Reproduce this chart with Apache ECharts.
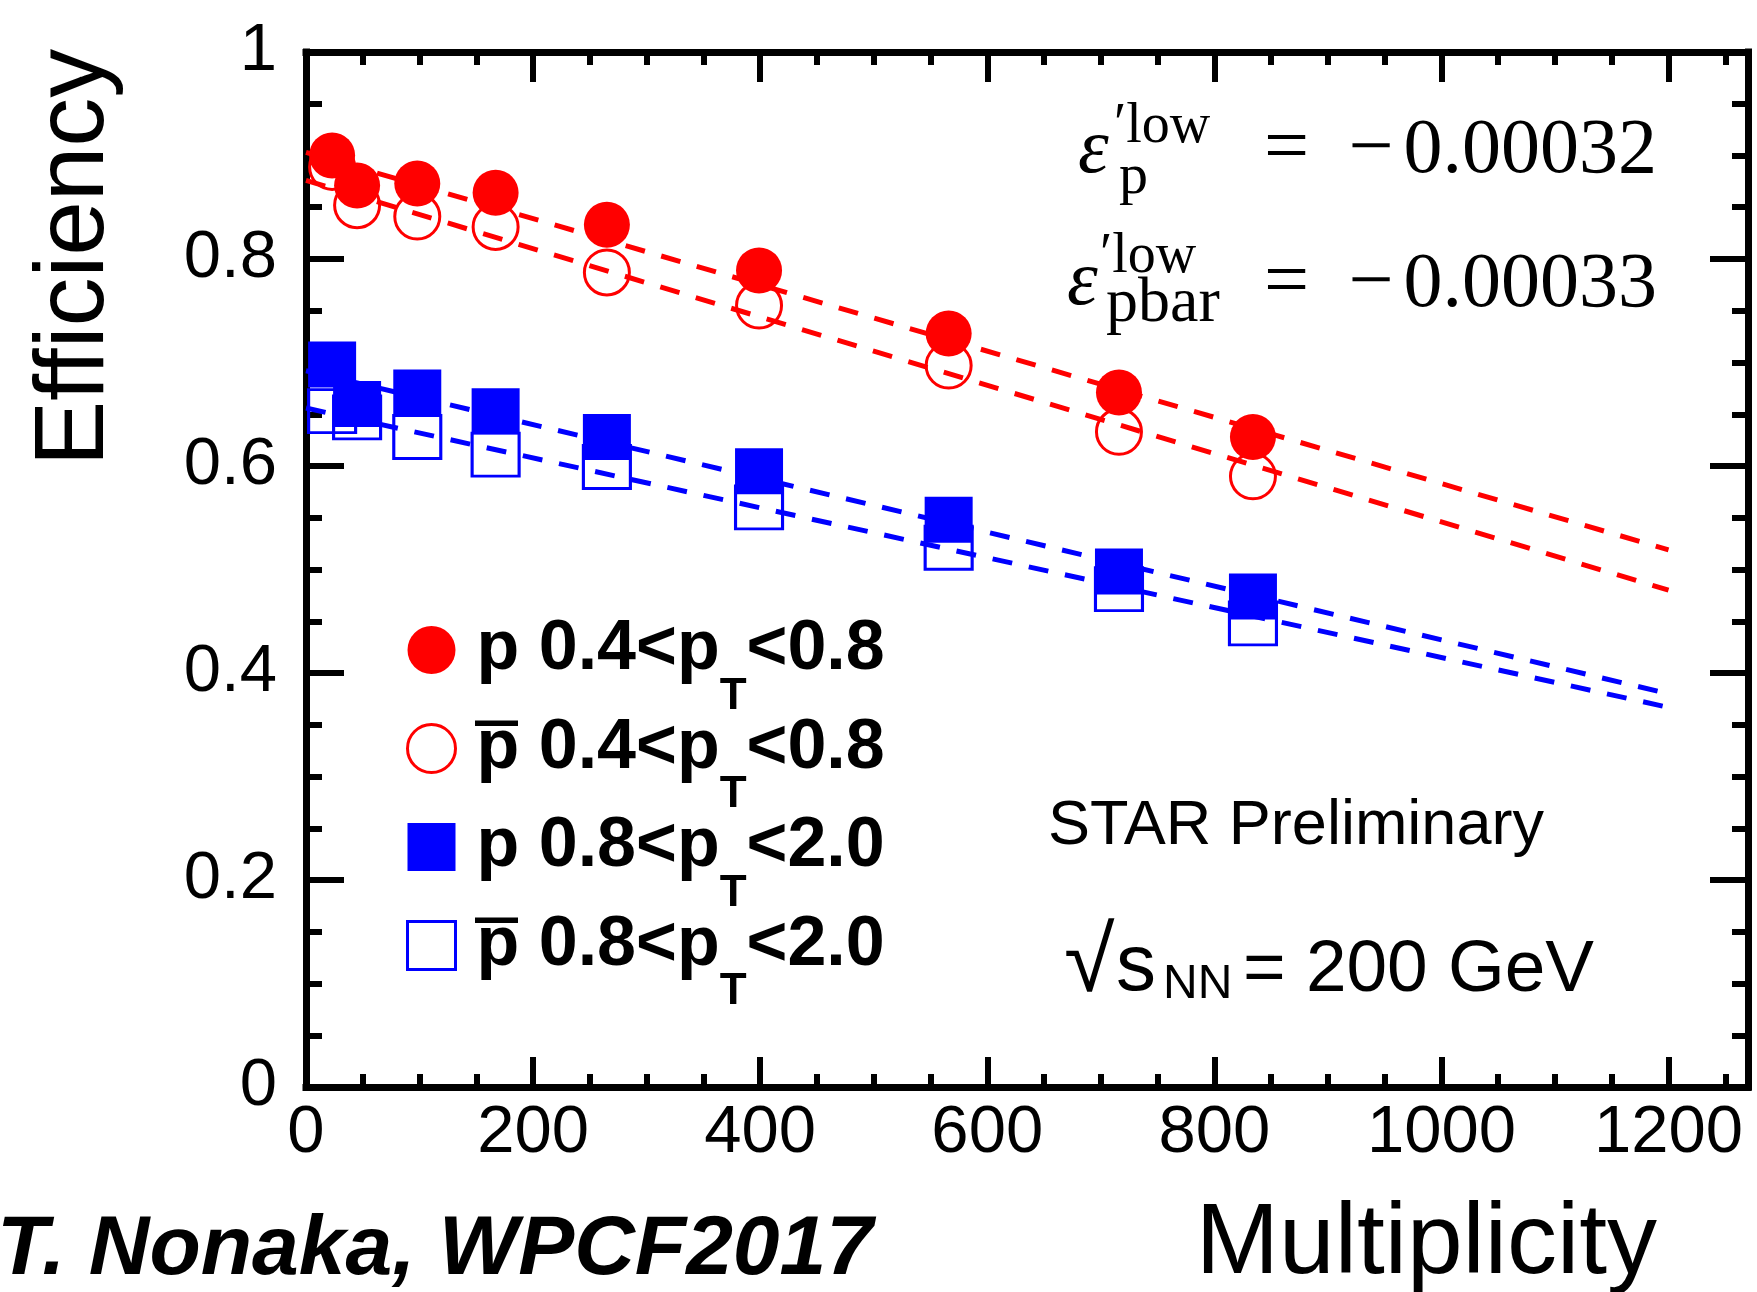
<!DOCTYPE html>
<html>
<head>
<meta charset="utf-8">
<title>Efficiency vs Multiplicity</title>
<script src="https://cdn.jsdelivr.net/npm/echarts@6/dist/echarts.min.js"></script>
<style>
  html, body { margin: 0; padding: 0; background: #fff; }
  #chart { width: 1757px; height: 1292px; }
</style>
</head>
<body>
<div id="chart"></div>
<script>
// ---- data -------------------------------------------------------------
const MULTIPLICITY = [23, 45, 98, 167, 265, 399, 566, 716, 834];

const EFF_P_LOW     = [0.900, 0.871, 0.873, 0.864, 0.833, 0.789, 0.728, 0.671, 0.628]; // p,    0.4<pT<0.8
const EFF_PBAR_LOW  = [0.889, 0.852, 0.841, 0.831, 0.787, 0.755, 0.697, 0.633, 0.590]; // pbar, 0.4<pT<0.8
const EFF_P_HIGH    = [0.698, 0.660, 0.671, 0.653, 0.628, 0.595, 0.548, 0.498, 0.474]; // p,    0.8<pT<2.0
const EFF_PBAR_HIGH = [0.653, 0.647, 0.628, 0.611, 0.599, 0.560, 0.521, 0.481, 0.448]; // pbar, 0.8<pT<2.0

// linear fits: eff = intercept + slope * multiplicity
const FIT_INTERCEPT = [0.903, 0.876, 0.692, 0.656];
const FIT_SLOPE     = [-0.00032, -0.00033, -0.00026, -0.000241];
const FIT_RANGE     = [0, 1200];

const SERIES_NAMES = ['p 0.4<pT<0.8', 'pbar 0.4<pT<0.8', 'p 0.8<pT<2.0', 'pbar 0.8<pT<2.0'];

const X_MAX = 1270;
const X_TICKS = [0, 200, 400, 600, 800, 1000, 1200];
const X_TICK_LABELS = ['0', '200', '400', '600', '800', '1000', '1200'];
const Y_TICKS = [0, 0.2, 0.4, 0.6, 0.8, 1];
const Y_TICK_LABELS = ['0', '0.2', '0.4', '0.6', '0.8', '1'];

// ---- styling helpers --------------------------------------------------
const SANS = "'Liberation Sans', Arial, Helvetica, sans-serif";
const SERIF = "'Liberation Serif', 'Times New Roman', serif";
const RED = '#ff0000';
const BLUE = '#0000ff';

function tickLabel(ticks, labels) {
  return function (v) {
    for (let i = 0; i < ticks.length; i++) {
      if (Math.abs(v - ticks[i]) < 1e-9) return labels[i];
    }
    return '';
  };
}

// text placed by its baseline (zrender draws with a 'middle' baseline)
function txt(text, x, baseline, size, o) {
  o = o || {};
  const family = o.family || SANS;
  const k = family === SERIF ? 0.3375 : 0.3465;
  return {
    type: 'text', x: x, y: baseline - k * size, silent: true, z: 50,
    style: {
      text: text, fill: '#000', fontSize: size, fontFamily: family,
      fontWeight: o.weight || 'normal', fontStyle: o.style || 'normal',
      align: o.align || 'left', verticalAlign: 'middle'
    }
  };
}

function pairs(xs, ys) { return xs.map((x, i) => [x, ys[i]]); }
function fitLine(i) {
  return FIT_RANGE.map(m => [m, FIT_INTERCEPT[i] + FIT_SLOPE[i] * m]);
}
function slopeParts(s) {
  return { sign: s < 0 ? '\u2212' : '', num: Math.abs(s).toFixed(5) };
}

// ---- axes -------------------------------------------------------------
const frameLine = { show: true, onZero: false, lineStyle: { color: '#000', width: 7, cap: 'square' } };
const noLine = { show: false, onZero: false };

function xAxis(position, interval, tickLen, withLine, withLabels) {
  return {
    type: 'value', position: position, min: 0, max: X_MAX, interval: interval,
    axisLine: withLine ? frameLine : noLine,
    axisTick: { show: true, inside: true, length: tickLen, lineStyle: { color: '#000', width: 6 } },
    axisLabel: withLabels ? {
      show: true, margin: 13, color: '#000', fontSize: 67, fontFamily: SANS,
      formatter: tickLabel(X_TICKS, X_TICK_LABELS)
    } : { show: false },
    splitLine: { show: false }
  };
}

function yAxis(position, withLabels) {
  return {
    type: 'value', position: position, min: 0, max: 1, interval: 0.2,
    axisLine: frameLine,
    axisTick: { show: true, inside: true, length: 38, lineStyle: { color: '#000', width: 6 } },
    minorTick: { show: true, splitNumber: 4, length: 16, lineStyle: { color: '#000', width: 6 } },
    axisLabel: withLabels ? {
      show: true, margin: 29, color: '#000', fontSize: 67, fontFamily: SANS,
      formatter: tickLabel(Y_TICKS, Y_TICK_LABELS)
    } : { show: false },
    splitLine: { show: false }, minorSplitLine: { show: false }
  };
}

// ---- series -----------------------------------------------------------
const fitColors = [RED, RED, BLUE, BLUE];
const fitSeries = fitColors.map((c, i) => ({
  type: 'line', name: 'fit' + i, data: fitLine(i), symbol: 'none', silent: true,
  lineStyle: { color: c, width: 5, type: [20, 17], cap: 'butt', opacity: 1 },
  emphasis: { disabled: true }, animation: false
}));

function markers(name, ys, symbol, size, color, open) {
  return {
    type: 'scatter', name: name, data: pairs(MULTIPLICITY, ys),
    symbol: symbol, symbolSize: size, silent: true, clip: false,
    itemStyle: open
      ? { color: 'rgba(255,255,255,0)', borderColor: color, borderWidth: 3, opacity: 1 }
      : { color: color, borderWidth: 0, opacity: 1 },
    emphasis: { disabled: true }
  };
}

const series = fitSeries.concat([
  markers(SERIES_NAMES[1], EFF_PBAR_LOW,  'circle', 45, RED, true),
  markers(SERIES_NAMES[3], EFF_PBAR_HIGH, 'rect', [47, 43], BLUE, true),
  markers(SERIES_NAMES[0], EFF_P_LOW,     'circle', 46, RED, false),
  markers(SERIES_NAMES[2], EFF_P_HIGH,    'rect', [48, 46], BLUE, false)
]);

// ---- legend text: "p 0.4<p_T<0.8" --------------------------------------
function legendText(name) {
  const m = name.match(/^(p|pbar) ([\d.]+)<pT<([\d.]+)$/);
  return '{b0|p ' + m[2] + '<p}{t|T}{b|<' + m[3] + '}';
}
const legendFont = { fontSize: 70, fontWeight: 'bold', fontFamily: SANS, color: '#000', lineHeight: 80 };

// ---- fit slope annotations --------------------------------------------
const s0 = slopeParts(FIT_SLOPE[0]);
const s1 = slopeParts(FIT_SLOPE[1]);

const graphics = [
  // axis titles
  { type: 'text', x: 76, y: 257.5, rotation: Math.PI / 2, silent: true, z: 50,
    style: { text: 'Efficiency', fill: '#000', fontSize: 98, fontFamily: SANS, align: 'center', verticalAlign: 'middle' } },
  txt('Multiplicity', 1657, 1280, 100, { align: 'right' }),
  txt('T. Nonaka, WPCF2017', -3, 1280, 84, { weight: 'bold', style: 'italic' }),

  // bars over the antiproton symbols in the legend
  { type: 'rect', silent: true, z: 50, shape: { x: 475, y: 720.5, width: 43, height: 5.5 }, style: { fill: '#000' } },
  { type: 'rect', silent: true, z: 50, shape: { x: 475, y: 917.5, width: 43, height: 5.5 }, style: { fill: '#000' } },

  // epsilon'_p^low
  txt('\u03b5', 1078, 178, 78, { family: SERIF, style: 'italic' }),
  txt('\u2032low', 1114, 146, 56, { family: SERIF }),
  txt('p', 1119, 197, 58, { family: SERIF }),
  txt('=', 1286.5, 178, 80, { family: SERIF, align: 'center' }),
  txt(s0.sign, 1371, 178, 80, { family: SERIF, align: 'center' }),
  txt(s0.num, 1657, 178, 78, { family: SERIF, align: 'right' }),

  // epsilon'_pbar^low
  txt('\u03b5', 1067, 310, 78, { family: SERIF, style: 'italic' }),
  txt('\u2032low', 1100, 276, 56, { family: SERIF }),
  txt('pbar', 1106, 326, 64, { family: SERIF }),
  txt('=', 1286.5, 312, 80, { family: SERIF, align: 'center' }),
  txt(s1.sign, 1371, 312, 80, { family: SERIF, align: 'center' }),
  txt(s1.num, 1657, 312, 78, { family: SERIF, align: 'right' }),

  // experiment / energy labels
  txt('STAR Preliminary', 1048, 848, 63),
  txt('\u221a', 1064, 998, 92),
  txt('s', 1116, 996, 80),
  txt('NN', 1163, 1001, 48),
  txt('= 200 GeV', 1243, 996, 73)
];

const option = {
  backgroundColor: '#fff',
  animation: false,
  grid: { left: 306, top: 52, width: 1442, height: 1035, containLabel: false },
  xAxis: [
    xAxis('bottom', 200, 30, true, true),
    xAxis('bottom', 50, 13, false, false),
    xAxis('top', 200, 30, true, false),
    xAxis('top', 50, 13, false, false)
  ],
  yAxis: [yAxis('left', true), yAxis('right', false)],
  legend: {
    // each text block is 137 px tall (subscript padding), so the gap is negative
    orient: 'vertical', left: 406, top: 581.5, padding: 0, itemGap: -38.5,
    itemWidth: 48, itemHeight: 48, selectedMode: false,
    data: [
      { name: SERIES_NAMES[0], itemStyle: { opacity: 1 } },
      { name: SERIES_NAMES[1], itemStyle: { borderWidth: 3, opacity: 1 } },
      { name: SERIES_NAMES[2], itemStyle: { opacity: 1 } },
      { name: SERIES_NAMES[3], itemStyle: { borderWidth: 3, opacity: 1 } }
    ],
    formatter: legendText,
    textStyle: {
      rich: {
        b0: Object.assign({ padding: [0, 0, 0, 16] }, legendFont),
        b: legendFont,
        t: { fontSize: 44, fontWeight: 'bold', fontFamily: SANS, color: '#000', lineHeight: 10, padding: [93, 0, 0, 0] }
      }
    }
  },
  graphic: { elements: graphics },
  series: series
};

const chart = echarts.init(document.getElementById('chart'), null, { renderer: 'canvas' });
chart.setOption(option);
</script>
</body>
</html>
